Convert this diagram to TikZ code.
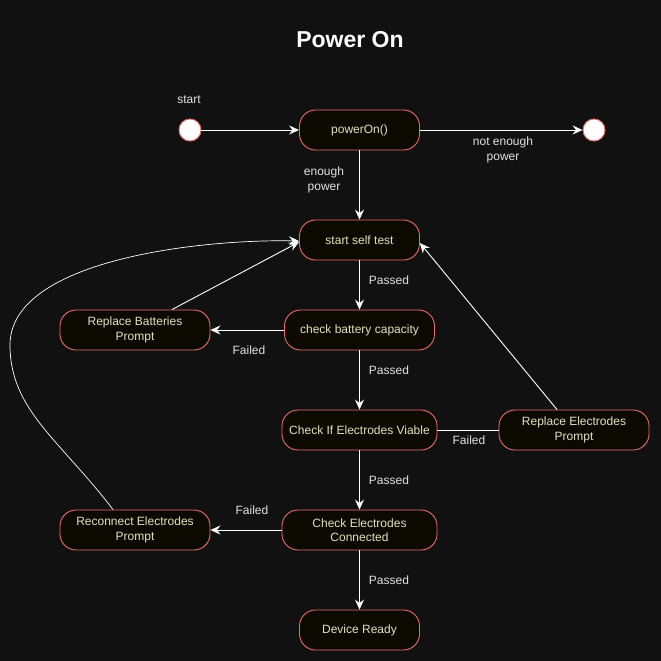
\documentclass[tikz,border=0pt]{standalone}
\usepackage{fontspec}
\setmainfont{Liberation Sans}
\usetikzlibrary{arrows.meta}
\definecolor{bgc}{RGB}{17,17,17}
\definecolor{nodefill}{RGB}{12,10,0}
\definecolor{nodeline}{RGB}{234,107,102}
\definecolor{nodetext}{RGB}{226,226,190}
\definecolor{lbltext}{RGB}{225,225,225}
\tikzset{
  x=1pt, y=-1pt,
  state/.style={draw=nodeline, fill=nodefill, line width=0.9pt, rounded corners=16pt,
    minimum height=40pt, text=nodetext, font=\fontsize{12}{14.5}\selectfont, align=center, inner sep=2pt},
  term/.style={circle, draw=nodeline, fill=white, line width=0.9pt, minimum size=22pt, inner sep=0pt},
  lbl/.style={text=lbltext, font=\fontsize{12}{14.5}\selectfont, align=center, inner sep=0pt},
  edge/.style={draw=white, line width=0.9pt, -{Stealth[length=10pt,width=9pt,inset=3.5pt]}},
  plain/.style={draw=white, line width=0.9pt}
}
\begin{document}
\begin{tikzpicture}
\fill[bgc] (0,0) rectangle (661,661);
\useasboundingbox (0,0) rectangle (661,661);
\node[text=white, font=\bfseries\fontsize{23}{26}\selectfont] (title) at (350,40) {Power On};

\node[term] (start) at (190,130) {};
\node[term] (stop) at (594,130) {};
\node[lbl] (startl) at (189,100) {start};

\node[state, minimum width=120pt] (pon) at (359.5,130) {powerOn()};
\node[state, minimum width=120pt] (sst) at (359.5,240) {start self test};
\node[state, minimum width=150pt] (cbc) at (359.5,330) {check battery capacity};
\node[state, minimum width=150pt] (rbp) at (135,330) {Replace Batteries\\Prompt};
\node[state, minimum width=155pt] (cev) at (359.5,430) {Check If Electrodes Viable};
\node[state, minimum width=150pt] (rep) at (574,430) {Replace Electrodes\\Prompt};
\node[state, minimum width=155pt] (cec) at (359.5,530) {Check Electrodes\\Connected};
\node[state, minimum width=150pt] (rec) at (135,530) {Reconnect Electrodes\\Prompt};
\node[state, minimum width=120pt] (dr) at (359.5,630) {Device Ready};

\node[lbl] (l1) at (324,180) {enough\\power};
\node[lbl] (l2) at (503,150) {not enough\\power};
\node[lbl] (l3) at (389,280) {Passed};
\node[lbl] (l4) at (249,350) {Failed};
\node[lbl] (l5) at (389,370) {Passed};
\node[lbl] (l6) at (469,440) {Failed};
\node[lbl] (l7) at (389,480) {Passed};
\node[lbl] (l8) at (252,510) {Failed};
\node[lbl] (l9) at (389,580) {Passed};

\path[edge] (start) -- (pon);
\path[edge] (pon) -- (stop);
\path[edge] (pon) -- (sst);
\path[edge] (sst) -- (cbc);
\path[edge] (cbc) -- (rbp);
\coordinate (rbpt) at ([xshift=37pt]rbp.north);
\coordinate (sstw) at ([yshift=-2pt]sst.west);
\path[edge] (rbpt) -- (sstw);
\path[edge] (cbc) -- (cev);
\path[plain] (cev) -- (rep);
\coordinate (rept) at ([xshift=-17pt]rep.north);
\coordinate (sste) at ([yshift=-3pt]sst.east);
\path[edge] (rept) -- (sste);
\path[edge] (cev) -- (cec);
\path[edge] (cec) -- (rec);
\path[edge] (cec) -- (dr);
\coordinate (rect) at ([xshift=-22pt]rec.north);
\coordinate (sstw2) at ([yshift=-1pt]sst.west);
\path[edge, line width=0.7pt] (rect) .. controls (60,440) and (10,410) .. (10,345)
  .. controls (10,260) and (200,239) .. (sstw2);
\end{tikzpicture}
\end{document}
